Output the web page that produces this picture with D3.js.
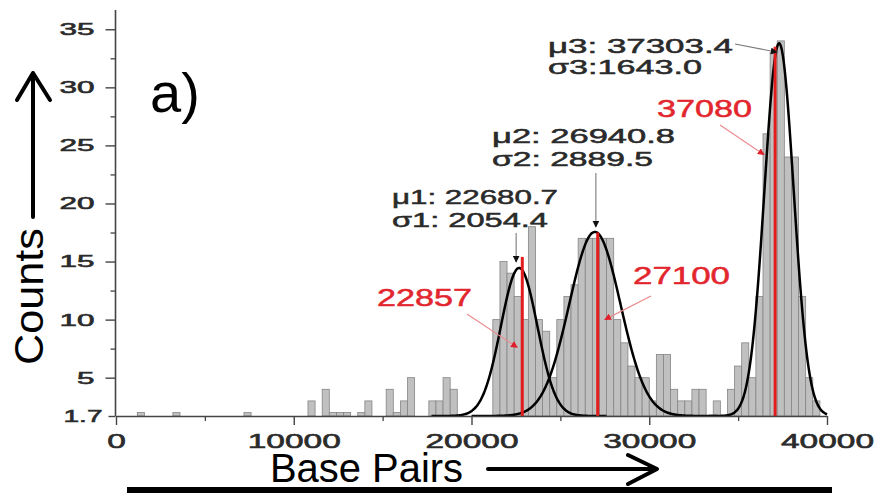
<!DOCTYPE html>
<html><head><meta charset="utf-8">
<script src="https://cdn.jsdelivr.net/npm/d3@7"></script>
<style>
body{margin:0;background:#fff}
svg{display:block}
text{font-family:"Liberation Sans",Arial,Helvetica,sans-serif}
</style>
</head><body>
<svg id="c" width="878" height="493"></svg>
<script>
// ---------- data ----------
const binWidth = 400;                 // histogram bin width (bp)
const counts = [
  0,0,0,2,0,0,0,0,2,0,            // 0 - 3600
  0,0,0,0,0,0,0,0,2,0,            // 4000 - 7600
  0,0,0,0,0,0,0,3,0,4,            // 8000 - 11600
  2,2,2,0,2,3,0,0,4,2,            // 12000 - 15600
  3,5,0,0,3,3,5,4,0,0,            // 16000 - 19600
  0,0,0,10,15,14,12,10,18,10,     // 20000 - 23600
  9,5,10,12,13,17,17,17,17,17,    // 24000 - 27600
  10,8,6,5,5,3,7,7,4,3,           // 28000 - 31600
  3,4,4,0,3,0,4,6,8,5,            // 32000 - 35600
  12,26,33,34,24,24,12,5,3,0      // 36000 - 39600
];
const yTickValues = [1.7, 5, 10, 15, 20, 25, 30, 35];
const yMinorTicks = [7.5, 12.5, 17.5, 22.5, 27.5, 32.5];
const xTickValues = [0, 10000, 20000, 30000, 40000];
const xMinorTicks = [5000, 15000, 25000, 35000];

const baseLevel = 1.7;
const peakMu = [22680.7, 26940.8, 37303.4];
const peakW = [2054.4, 2889.5, 1643.0];
const peakHeight = [14.45, 17.55, 33.8];

const markerPos = [22857, 27100, 37080];
const markerTop = [15.4, 17.5, 33.5];
const markerArrowAt = [7.6, 10.0, 24.2];

const muLabels = ["\u03bc1: 22680.7", "\u03bc2: 26940.8", "\u03bc3: 37303.4"];
const sigmaLabels = ["\u03c31: 2054.4", "\u03c32: 2889.5", "\u03c33:1643.0"];
const markerLabels = ["22857", "27100", "37080"];

// ---------- scales ----------
const svg = d3.select("#c");
const x = d3.scaleLinear().domain([0, 40000]).range([116, 827]);
const y = d3.scaleLinear().domain([1.7, 36.66]).range([416, 10]);

const defs = svg.append("defs");
function mk(id, color){
  defs.append("marker").attr("id", id).attr("viewBox","0 0 10 10")
    .attr("refX", 9).attr("refY", 5).attr("markerWidth", 7).attr("markerHeight", 7)
    .attr("markerUnits","userSpaceOnUse").attr("orient","auto")
    .append("path").attr("d","M0,0 L10,5 L0,10 z").attr("fill", color);
}
mk("ab", "#111"); mk("ar", "#e0202a");

defs.append("clipPath").attr("id","plot").append("rect")
  .attr("x", x(0)).attr("y", 0).attr("width", x(40000)-x(0)+2).attr("height", y(baseLevel)+0.5);

// ---------- bars ----------
svg.append("g").selectAll("rect")
  .data(counts.map((c,i)=>({start:i*binWidth, c})).filter(d => d.c > baseLevel))
  .join("rect")
  .attr("x", d => x(d.start))
  .attr("width", d => x(d.start+binWidth) - x(d.start))
  .attr("y", d => y(d.c))
  .attr("height", d => y(baseLevel) - y(d.c))
  .attr("fill", "#c0c0c0").attr("stroke", "#858585").attr("stroke-width", 0.8);

// ---------- Gaussian fits ----------
const line = d3.line().x(d=>x(d[0])).y(d=>y(d[1])).curve(d3.curveBasis);
const gCurves = svg.append("g").attr("clip-path","url(#plot)");
peakMu.forEach((mu,i)=>{
  const w = peakW[i], A = peakHeight[i]-baseLevel;
  const lo = Math.max(0, mu-2.4*w), hi = Math.min(40000, mu+2.4*w);
  const pts = d3.range(lo, hi+1, 40).map(v => [v, baseLevel + A*Math.exp(-2*(v-mu)*(v-mu)/(w*w))]);
  gCurves.append("path").attr("d", line(pts)).attr("fill","none")
    .attr("stroke","#000").attr("stroke-width",2.5);
});

// ---------- red marker lines ----------
svg.append("g").selectAll("line").data(markerPos).join("line")
  .attr("x1", d=>x(d)).attr("x2", d=>x(d))
  .attr("y1", (d,i)=>y(markerTop[i])).attr("y2", y(baseLevel))
  .attr("stroke","#e41c1c").attr("stroke-width",3);

// ---------- axes ----------
const axisColor = "#444";
const tickTextColor = "#2b2b2b";
const gy = svg.append("g").attr("transform",`translate(${x(0)-0.5},0)`)
  .call(d3.axisLeft(y).tickValues(yTickValues).tickSize(10).tickSizeOuter(0)
    .tickFormat(d => d===1.7 ? "1.7" : String(d)));
gy.select(".domain").attr("stroke",axisColor).attr("stroke-width",1.6)
  .attr("d", `M0,${y(baseLevel)}V${y.range()[1]}`);
gy.selectAll(".tick line").attr("stroke",axisColor).attr("stroke-width",1.4)
  .attr("x2", d => d===1.7 ? -7 : -10);
gy.selectAll(".tick text")
  .attr("x", d => d===1.7 ? -13 : -21)
  .attr("font-size", 17).attr("fill",tickTextColor)
  .attr("stroke",tickTextColor).attr("stroke-width",0.6)
  .attr("textLength", d => d===1.7 ? 39 : String(d).length*17.5)
  .attr("lengthAdjust","spacingAndGlyphs");
const gym = svg.append("g").attr("transform",`translate(${x(0)-0.5},0)`)
  .call(d3.axisLeft(y).tickValues(yMinorTicks).tickSize(5).tickFormat(""));
gym.select(".domain").remove();
gym.selectAll(".tick line").attr("stroke",axisColor).attr("stroke-width",1.3);

const gx = svg.append("g").attr("transform",`translate(0,${y(baseLevel)})`)
  .call(d3.axisBottom(x).tickValues(xTickValues).tickSize(9).tickSizeOuter(0)
    .tickFormat(d3.format("d")));
gx.select(".domain").attr("stroke",axisColor).attr("stroke-width",1.6);
gx.selectAll(".tick line").attr("stroke",axisColor).attr("stroke-width",1.4);
gx.selectAll(".tick text")
  .attr("y", 32).attr("dy", 0)
  .attr("font-size", 21).attr("fill",tickTextColor)
  .attr("stroke",tickTextColor).attr("stroke-width",0.6)
  .attr("textLength", d => String(d).length*18.6)
  .attr("lengthAdjust","spacingAndGlyphs");
const gxm = svg.append("g").attr("transform",`translate(0,${y(baseLevel)})`)
  .call(d3.axisBottom(x).tickValues(xMinorTicks).tickSize(5).tickFormat(""));
gxm.select(".domain").remove();
gxm.selectAll(".tick line").attr("stroke",axisColor).attr("stroke-width",1.3);

// ---------- annotations ----------
const ann = svg.append("g").attr("fill","#2a2a2a").attr("stroke","#2a2a2a")
  .attr("stroke-width",0.5).attr("font-size",20);
const muPos = [[392,204,166],[492,143,183],[548,53,185]];
const sgPos = [[392,227,156],[492,166,161],[548,74,154]];
muLabels.forEach((t,i)=>{
  ann.append("text").attr("x",muPos[i][0]).attr("y",muPos[i][1]).text(t)
    .attr("textLength",muPos[i][2]).attr("lengthAdjust","spacingAndGlyphs");
  ann.append("text").attr("x",sgPos[i][0]).attr("y",sgPos[i][1]).text(sigmaLabels[i])
    .attr("textLength",sgPos[i][2]).attr("lengthAdjust","spacingAndGlyphs");
});
// black arrows to fitted peaks
const arrowsB = [
  [x(peakMu[0])-3, 233, x(peakMu[0])-3, y(peakHeight[0])-6],
  [x(peakMu[1])+1, 173, x(peakMu[1])+1, y(peakHeight[1])-5],
  [735, 44, x(peakMu[2])-2, y(peakHeight[2])+9]
];
svg.append("g").selectAll("line").data(arrowsB).join("line")
  .attr("x1",d=>d[0]).attr("y1",d=>d[1]).attr("x2",d=>d[2]).attr("y2",d=>d[3])
  .attr("stroke","#7a7a7a").attr("stroke-width",1.1).attr("marker-end","url(#ab)");

// red labels
const redPos = [[377,306,95],[633,284,97],[657,117,95]];
const red = svg.append("g").attr("fill","#e3262e").attr("stroke","#e3262e")
  .attr("stroke-width",0.5).attr("font-size",24);
markerLabels.forEach((t,i)=>{
  red.append("text").attr("x",redPos[i][0]).attr("y",redPos[i][1]).text(t)
    .attr("textLength",redPos[i][2]).attr("lengthAdjust","spacingAndGlyphs");
});
const arrowsR = [
  [467, 314, x(markerPos[0])-5, y(markerArrowAt[0])],
  [651, 296, x(markerPos[1])+7, y(markerArrowAt[1])],
  [720, 125, x(markerPos[2])-11, y(markerArrowAt[2])]
];
svg.append("g").selectAll("line").data(arrowsR).join("line")
  .attr("x1",d=>d[0]).attr("y1",d=>d[1]).attr("x2",d=>d[2]).attr("y2",d=>d[3])
  .attr("stroke","#ec8a8e").attr("stroke-width",1.2).attr("marker-end","url(#ar)");

// panel label
svg.append("text").attr("x",150).attr("y",112).attr("font-size",56).attr("fill","#000").text("a)");

// axis titles + arrows
svg.append("text").attr("x",270).attr("y",482).attr("font-size",40).attr("fill","#000")
  .attr("textLength",193).attr("lengthAdjust","spacingAndGlyphs").text("Base Pairs");
svg.append("text").attr("transform","translate(43,365) rotate(-90)")
  .attr("font-size",40).attr("fill","#000")
  .attr("textLength",137).attr("lengthAdjust","spacingAndGlyphs").text("Counts");

const arrowG = svg.append("g").attr("stroke","#000").attr("stroke-width",4)
  .attr("fill","none").attr("stroke-linecap","round").attr("stroke-linejoin","round");
arrowG.append("path").attr("d","M33,217 V73 M17,100 L33,73 L50,100");
arrowG.append("path").attr("d","M488,469 H656 M628,455 L657,469 L628,484");
// bottom bar
svg.append("rect").attr("x",127).attr("y",487).attr("width",705).attr("height",6).attr("fill","#000");
</script>
</body></html>
